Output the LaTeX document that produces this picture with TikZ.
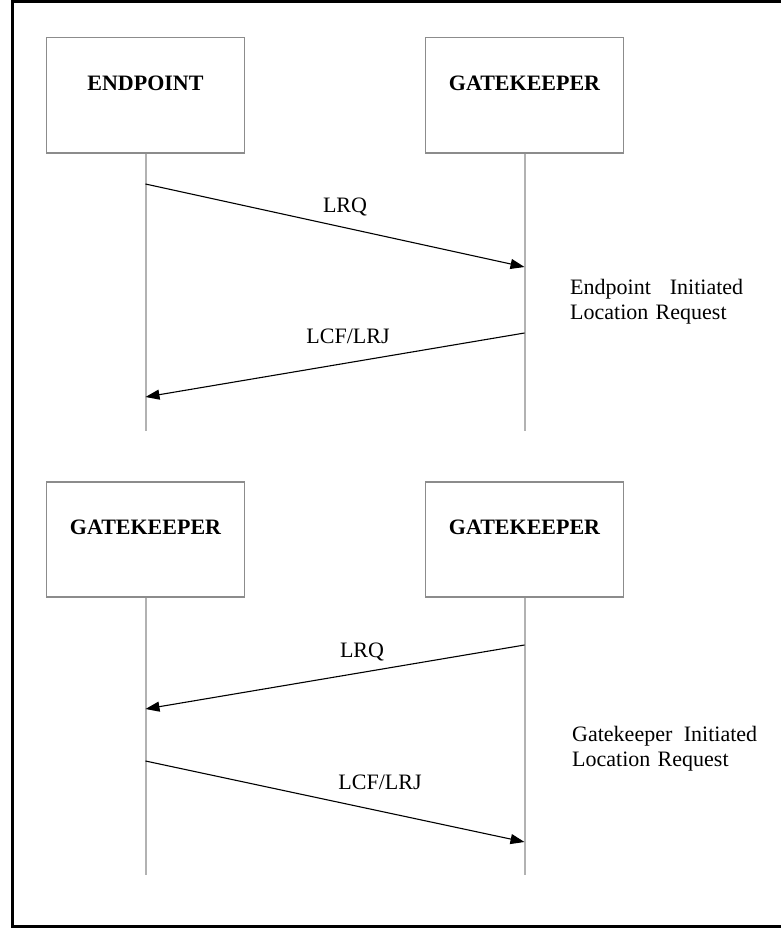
\documentclass[tikz,border=0pt]{standalone}
\usepackage{fontspec}
\setmainfont{Liberation Serif}
\usetikzlibrary{arrows.meta}
\begin{document}
\begin{tikzpicture}[x=1pt,y=-1pt,
  entity/.style={draw=black!45, line width=1.5pt, fill=white, inner sep=0pt,
    minimum width=198pt, text height=53pt, text depth=62pt,
    font=\fontsize{22}{25}\selectfont\bfseries, anchor=north},
  lifeline/.style={draw=black!30, line width=2pt},
  msg/.style={draw=black, line width=1.1pt, -{Triangle[length=14pt,width=10pt]}},
  msglabel/.style={font=\fontsize{22}{25}\selectfont, inner sep=0pt, anchor=base},
  note/.style={font=\fontsize{22}{25}\selectfont, inner sep=0pt, align=left, anchor=base west}
]
\useasboundingbox (0,0) rectangle (781,931);

% outer frame (its right side lies past the page edge)
\draw[line width=3pt] (800,1.5) -- (12,1.5) -- (12,926) -- (800,926);

% ---- endpoint initiated location request ----
\node[entity] (ep)  at (145.5,37) {ENDPOINT};
\node[entity] (gk1) at (524.5,37) {GATEKEEPER};
\coordinate (ep-end)  at (145.5,431);
\coordinate (gk1-end) at (524.5,431);
\draw[lifeline] (ep.south)  -- (ep-end);
\draw[lifeline] (gk1.south) -- (gk1-end);

\coordinate (ep-a)  at (145.5,184);
\coordinate (gk1-a) at (524.5,267);
\coordinate (gk1-b) at (524.5,333);
\coordinate (ep-b)  at (145.5,397);
\draw[msg] (ep-a) -- (gk1-a);
\draw[msg] (gk1-b) -- (ep-b);
\node[msglabel] (lrq1) at (345,212) {LRQ};
\node[msglabel] (lcf1) at (348,343) {LCF/LRJ};

\node[note, text width=173pt] (note1) at (570,294)
  {Endpoint\hfill Initiated\\Location Request};

% ---- gatekeeper initiated location request ----
\node[entity] (gk2) at (145.5,481) {GATEKEEPER};
\node[entity] (gk3) at (524.5,481) {GATEKEEPER};
\coordinate (gk2-end) at (145.5,875);
\coordinate (gk3-end) at (524.5,875);
\draw[lifeline] (gk2.south) -- (gk2-end);
\draw[lifeline] (gk3.south) -- (gk3-end);

\coordinate (gk3-a) at (524.5,645);
\coordinate (gk2-a) at (145.5,709);
\coordinate (gk2-b) at (145.5,761);
\coordinate (gk3-b) at (524.5,842);
\draw[msg] (gk3-a) -- (gk2-a);
\draw[msg] (gk2-b) -- (gk3-b);
\node[msglabel] (lrq2) at (362,657) {LRQ};
\node[msglabel] (lcf2) at (380,789) {LCF/LRJ};

\node[note, text width=185pt] (note2) at (572,741.5)
  {Gatekeeper\hfill Initiated\\Location Request};
\end{tikzpicture}
\end{document}
